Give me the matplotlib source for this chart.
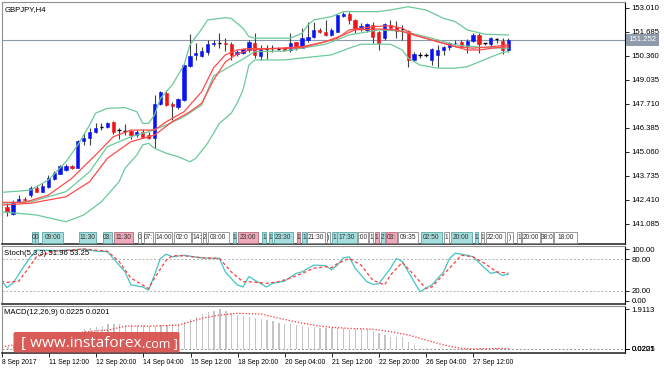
import numpy as np
import matplotlib.pyplot as plt
import matplotlib.transforms as mtransforms
from matplotlib.patches import FancyBboxPatch

plt.rcParams['font.family'] = ['Liberation Sans', 'DejaVu Sans']

# GBPJPY H4 candles, one entry per bar, left to right
opens = [142.04, 141.63, 142.31, 142.45, 142.68, 143.09, 142.87, 143.14, 143.57, 143.86,
         144.06, 144.29, 144.19, 145.67, 145.81, 146.15, 146.40, 146.42, 146.70, 146.27,
         146.23, 146.21, 145.99, 146.18, 145.99, 145.81, 147.69, 148.30, 147.73, 147.53,
         147.93, 149.82, 150.40, 150.38, 150.56, 151.00, 151.06, 151.08, 151.00, 150.45,
         150.51, 150.69, 151.06, 150.38, 150.79, 150.77, 150.79, 150.79, 150.69, 151.12,
         150.82, 151.24, 151.39, 151.80, 151.67, 151.52, 151.70, 152.57, 152.66, 152.35,
         151.85, 151.80, 152.07, 151.70, 151.34, 152.07, 151.98, 151.85, 151.74, 150.14,
         150.41, 150.38, 150.14, 150.41, 150.70, 150.83, 151.06, 151.15, 150.93, 151.20,
         151.52, 151.04, 151.02, 151.28, 151.20, 150.69]
highs = [142.24, 142.41, 142.68, 142.58, 143.20, 143.24, 143.33, 143.79, 144.01, 144.34,
         144.38, 144.36, 145.71, 146.09, 146.37, 146.64, 146.64, 146.70, 146.77, 146.37,
         146.60, 146.27, 146.27, 146.33, 146.15, 148.21, 148.43, 148.47, 147.80, 148.02,
         149.90, 151.56, 151.06, 150.87, 151.24, 151.24, 151.63, 151.34, 151.15, 150.69,
         150.79, 151.24, 151.61, 150.97, 150.97, 150.97, 150.88, 150.84, 151.61, 151.15,
         151.89, 152.25, 152.25, 151.89, 152.35, 151.89, 152.66, 152.81, 152.81, 152.40,
         152.16, 152.16, 152.25, 151.74, 152.16, 152.35, 152.29, 152.07, 151.80, 150.60,
         150.60, 150.51, 150.79, 150.97, 150.92, 151.15, 151.24, 151.24, 151.28, 151.61,
         151.65, 151.10, 151.39, 151.34, 151.34, 151.34]
lows = [141.52, 141.58, 142.28, 142.36, 142.59, 142.83, 142.83, 143.09, 143.51, 143.83,
        144.01, 144.11, 144.16, 145.44, 145.44, 146.09, 146.27, 146.40, 146.07, 145.77,
        145.99, 145.77, 145.88, 145.82, 145.77, 145.26, 147.65, 147.60, 146.83, 147.46,
        147.89, 149.77, 150.14, 150.32, 150.41, 150.91, 150.79, 150.62, 150.14, 150.36,
        150.45, 150.60, 150.23, 150.14, 150.19, 150.60, 150.69, 150.62, 150.60, 150.69,
        150.79, 151.15, 151.34, 151.61, 151.48, 151.48, 151.67, 152.53, 152.11, 151.61,
        151.74, 151.70, 151.06, 150.69, 151.24, 151.89, 151.34, 151.24, 149.77, 150.08,
        150.23, 150.32, 149.86, 149.77, 150.41, 150.69, 150.97, 150.80, 150.54, 151.15,
        150.54, 150.97, 150.78, 151.06, 150.47, 150.60]
closes = [141.73, 142.22, 142.45, 142.40, 143.05, 142.87, 143.20, 143.61, 143.88, 144.30,
          144.30, 144.16, 145.67, 145.85, 146.18, 146.40, 146.42, 146.64, 146.18, 146.25,
          146.21, 145.99, 146.15, 145.89, 145.81, 147.69, 148.36, 147.65, 147.60, 147.97,
          149.86, 150.36, 150.55, 150.64, 151.00, 151.06, 151.08, 151.04, 150.41, 150.60,
          150.73, 151.12, 150.41, 150.82, 150.77, 150.79, 150.77, 150.69, 151.09, 150.79,
          151.34, 151.43, 151.80, 151.70, 151.52, 151.80, 152.62, 152.66, 152.35, 151.85,
          152.03, 152.11, 151.43, 151.06, 152.11, 151.92, 151.74, 151.83, 150.14, 150.45,
          150.43, 150.40, 150.73, 150.69, 150.87, 151.06, 151.10, 150.91, 151.20, 151.52,
          151.02, 151.06, 151.34, 151.30, 150.69, 151.25]

# Bollinger bands and moving averages, read at sample bars
bb_up_x = [-1, 2, 4, 7, 10, 12, 14, 15, 17, 20, 22, 23, 24, 25, 26, 28, 30, 31, 33, 34,
           37, 38, 40, 41, 42, 48, 50, 51, 52, 55, 57, 63, 65, 68, 71, 74, 76, 78, 81, 85]
bb_up = [142.83, 142.90, 142.96, 143.51, 144.52, 145.45, 146.55, 147.20, 147.47, 147.51,
         147.28, 146.64, 146.64, 147.10, 148.02, 148.76, 149.86, 150.97, 151.85, 152.35,
         152.47, 152.44, 151.89, 151.43, 151.34, 151.34, 151.61, 152.07, 152.35, 152.53,
         152.81, 152.81, 152.90, 153.08, 152.90, 152.44, 152.25, 151.80, 151.56, 151.52]
bb_lo_x = [-1, 2, 5, 7, 10, 13, 16, 19, 20, 22, 23, 24, 25, 27, 29, 31, 32, 34, 36, 38,
           39, 40, 41, 42, 47, 50, 55, 58, 60, 65, 67, 68, 70, 73, 76, 78, 80, 82, 84, 85]
bb_lo = [141.76, 141.67, 141.58, 141.43, 141.21, 141.58, 142.31, 143.42, 144.16, 144.89,
         145.45, 145.54, 145.26, 144.99, 144.80, 144.52, 144.71, 145.54, 146.64, 147.20,
         147.75, 148.48, 149.86, 150.14, 150.14, 150.25, 150.42, 150.79, 151.01, 151.01,
         150.69, 150.25, 149.86, 149.69, 149.69, 149.77, 150.03, 150.30, 150.55, 150.61]
bb_mid_x = [-1, 4, 10, 14, 17, 21, 24, 27, 30, 33, 35, 38, 40, 42, 47, 54, 58, 63, 67, 72, 76, 81, 85]
bb_mid = [142.23, 142.31, 142.87, 143.97, 145.35, 145.90, 146.18, 146.55, 147.01, 147.65, 149.25,
          149.82, 150.19, 150.60, 150.63, 151.01, 151.52, 151.80, 151.74, 151.34, 150.97, 150.82, 150.79]
ma_fast_x = [-1, 3, 7, 11, 15, 18, 21, 25, 27, 30, 33, 35, 37, 39, 41, 47, 50, 53, 56, 58,
             62, 65, 67, 69, 73, 76, 79, 82, 85]
ma_fast = [142.28, 142.28, 142.68, 143.61, 144.89, 145.90, 146.27, 146.27, 146.73, 147.28,
           148.39, 149.70, 150.42, 150.69, 150.77, 150.77, 150.83, 151.06, 151.34, 151.80,
           151.98, 152.03, 151.89, 151.52, 151.15, 150.87, 150.79, 150.87, 150.97]
ma_slow_x = [-1, 4, 10, 14, 17, 21, 25, 28, 31, 33, 35, 37, 39, 41, 50, 54, 57, 59, 63, 66,
             68, 72, 75, 78, 80, 83, 85]
ma_slow = [142.13, 142.23, 142.59, 143.42, 144.71, 145.63, 145.99, 146.73, 147.28, 147.75,
           149.03, 150.03, 150.47, 150.69, 150.87, 151.15, 151.52, 151.80, 151.85, 151.80,
           151.61, 151.24, 150.97, 150.69, 150.69, 150.82, 150.87]

# Stochastic (5,3,3)
st_k_x = [-1, 0, 1, 3, 4, 5, 8, 11, 13, 15, 17, 18, 20, 21, 23, 24, 25, 26, 27, 28,
          30, 33, 36, 37, 39, 40, 41, 42, 44, 45, 47, 49, 50, 52, 54, 55, 56, 57, 58, 59,
          61, 62, 63, 65, 66, 67, 69, 70, 72, 74, 75, 76, 78, 79, 81, 82, 83, 84, 85]
st_k = [40, 26, 34, 69, 85, 98, 97, 98, 100, 96, 95, 82, 56, 31, 27, 21, 50, 82, 90, 85,
        88, 83, 82, 56, 31, 27, 47, 40, 27, 34, 38, 53, 56, 69, 68, 60, 69, 83, 85, 63,
        37, 32, 33, 63, 82, 76, 37, 18, 31, 56, 82, 92, 88, 85, 63, 53, 56, 49, 51.96]
st_d_x = [-1, 0, 2, 4, 5, 8, 11, 13, 17, 19, 21, 24, 25, 27, 28, 30, 33, 36, 38, 40,
          41, 44, 46, 48, 50, 52, 54, 55, 56, 58, 60, 62, 64, 65, 67, 69, 71, 72, 75, 77,
          79, 81, 83, 85]
st_d = [38, 36, 38, 69, 85, 96, 98, 100, 96, 76, 44, 24, 44, 79, 87, 87, 83, 82, 56, 37,
        37, 34, 37, 44, 53, 63, 66, 64, 72, 82, 69, 40, 31, 50, 74, 50, 24, 27, 63, 88,
        85, 72, 56, 53.25]

# MACD (12,26,9): histogram per bar, signal at sample bars
macd_hist = [0.10, 0.14, 0.18, 0.22, 0.28, 0.33, 0.38, 0.45, 0.52, 0.60, 0.67, 0.72, 0.80,
             0.95, 1.00, 1.07, 1.12, 1.20, 1.20, 1.18, 1.17,
             1.17, 1.15, 1.13, 1.10, 1.12, 1.16, 1.17, 1.18, 1.20,
             1.31, 1.42, 1.55, 1.68, 1.76, 1.83, 1.91, 1.85, 1.75,
             1.63, 1.58, 1.52, 1.47, 1.43, 1.39, 1.33, 1.26, 1.22,
             1.18, 1.15, 1.10, 1.07, 1.04, 1.02, 1.00, 0.99, 0.99,
             0.99, 0.98, 0.98, 0.98, 0.97, 0.88, 0.78, 0.67, 0.59,
             0.57, 0.56, 0.35, 0.19, 0.05, 0.03, 0.02, 0.02, 0.01, 0.02,
             0.02, 0.02, 0.03, 0.03, 0.03, 0.02, 0.02, 0.03, 0.02, 0.0225]
macd_sig_x = [-1, 6, 13, 17, 20, 24, 29, 33, 36, 39, 43, 46, 50, 53, 55, 58, 62, 65, 68, 71,
              74, 77, 79, 83, 85]
macd_sig = [0.11, 0.40, 0.83, 0.91, 1.10, 1.10, 1.15, 1.48, 1.63, 1.72, 1.68, 1.48, 1.24,
            1.10, 1.04, 0.99, 0.95, 0.83, 0.67, 0.43, 0.19, 0.03, 0.0, 0.03, 0.0201]

price_ticks = [153.010, 151.685, 150.360, 149.035, 147.710, 146.385, 145.060, 143.735, 142.410, 141.085]
last_price = 151.252
date_ticks = [-1, 7, 15, 23, 31, 39, 47, 55, 63, 71, 79]
date_labels = ['8 Sep 2017', '11 Sep 12:00', '12 Sep 20:00', '14 Sep 04:00', '15 Sep 12:00',
               '18 Sep 20:00', '20 Sep 04:00', '21 Sep 12:00', '22 Sep 20:00', '26 Sep 04:00',
               '27 Sep 12:00']

# calendar event tags along the bottom of the price window (c=cyan, p=pink, w=white)
event_text = ['0', '0', '09:00', '11:30', '03:', '11:30', '0', '07:', '14:00', '02:0', '14:',
              '2', '03:00', '1', '23:00', '1', '1', '23:30', '1', '1', '21:30', ')', '1',
              '17:30', ':00', '1', '1', '2', '03:', '09:35', '02:50', '1', '20:00', '1', '1',
              '22:00', ')', '1', '20:00', '38:0', '18:00']
event_kind = ['c', 'c', 'c', 'c', 'c', 'p', 'w', 'w', 'w', 'w', 'w',
              'w', 'w', 'c', 'p', 'c', 'c', 'c', 'p', 'c', 'w', 'w', 'c',
              'c', 'w', 'w', 'p', 'c', 'p', 'w', 'c', 'w', 'c', 'c', 'w',
              'w', 'w', 'w', 'w', 'w', 'w']
event_x = [(31.7, 35), (35, 38.3), (41.7, 63.3), (79, 96.7), (102.3, 112.7), (113.3, 133.3),
           (137.7, 141), (143.3, 153.3), (155, 172.7), (173.3, 191), (191.7, 201.7),
           (202.7, 206.7), (207.3, 229.3), (232.3, 236.7), (237.3, 258.3), (261.7, 266.7),
           (268.3, 272.7), (273.3, 293.3), (296.7, 300.7), (301.7, 306), (306.7, 325),
           (326.7, 330), (332, 337), (337, 357), (358, 368.7), (368.7, 373.7), (374.3, 379.3),
           (380.3, 385.3), (386, 397), (397.7, 418.7), (420.3, 442), (443.7, 449.3),
           (450.3, 472), (474.7, 478.7), (480.3, 484.7), (485.3, 505.3), (507, 513),
           (517, 521.3), (521.3, 540.3), (540.3, 553.7), (553.7, 577)]

W, H = 664, 369
fig = plt.figure(figsize=(W / 100, H / 100), dpi=100)
fs = 5.6


def px_box(x0, y0, x1, y1):
    return [x0 / W, 1 - y1 / H, (x1 - x0) / W, (y1 - y0) / H]


ax = fig.add_axes(px_box(2, 2, 625, 244))
ax_st = fig.add_axes(px_box(2, 246, 625, 304))
ax_md = fig.add_axes(px_box(2, 306, 625, 353))

for a in (ax, ax_st, ax_md):
    a.set_xlim(-0.85, 104.75)
    a.yaxis.tick_right()
    a.tick_params(axis='y', direction='out', length=3, width=0.6, pad=1.5, labelsize=fs, colors='black')
    a.tick_params(axis='x', bottom=False, labelbottom=False)
    for side in ('left', 'top'):
        a.spines[side].set_color('#909090')
        a.spines[side].set_linewidth(0.8)
    a.spines['right'].set_color('black')
    a.spines['right'].set_linewidth(0.8)
    a.spines['bottom'].set_color('#303030')
    a.spines['bottom'].set_linewidth(1.2)

# ---- price window ----
x = np.arange(len(opens))
o = np.array(opens)
c = np.array(closes)
ax.vlines(x, lows, highs, color='#404040', lw=0.8, zorder=3)
body = np.abs(c - o) >= 0.03
cols = np.where(c > o, '#0a14f0', '#f01414')
ax.bar(x[body], np.abs(c - o)[body], bottom=np.minimum(o, c)[body], width=0.56,
       color=cols[body], edgecolor=cols[body], linewidth=0.4, zorder=4)
ax.hlines(c[~body], x[~body] - 0.3, x[~body] + 0.3, color='black', lw=1.0, zorder=4)

green = '#6cc99a'
red = '#ff4a4a'
ax.plot(bb_up_x, bb_up, color=green, lw=0.9, zorder=5)
ax.plot(bb_lo_x, bb_lo, color=green, lw=0.9, zorder=5)
ax.plot(bb_mid_x, bb_mid, color=green, lw=0.9, zorder=5)
ax.plot(ma_fast_x, ma_fast, color=red, lw=0.9, zorder=5)
ax.plot(ma_slow_x, ma_slow, color=red, lw=0.9, zorder=5)

ax.axhline(last_price, color='#8d9aab', lw=0.8, zorder=2)
ax.set_ylim(139.98, 153.34)
ax.set_yticks(price_ticks)
ax.set_yticklabels(['%.3f' % v for v in price_ticks])
blend = mtransforms.blended_transform_factory(ax.transAxes, ax.transData)
ax.text(1.006, last_price, '%.3f' % last_price, transform=blend, ha='left', va='center',
        fontsize=fs, color='white', zorder=10, clip_on=False,
        bbox=dict(boxstyle='square,pad=0.3', fc='#8d9bab', ec='none'))
ax.text(0.004, 0.985, 'GBPJPY,H4', transform=ax.transAxes, ha='left', va='top', fontsize=fs)

# ---- stochastic window ----
ax_st.axhline(80, color='#b0b0b0', lw=0.7, ls=(0, (2, 2)))
ax_st.axhline(20, color='#b0b0b0', lw=0.7, ls=(0, (2, 2)))
ax_st.plot(st_k_x, st_k, color='#45c4c4', lw=0.9)
ax_st.plot(st_d_x, st_d, color='#ff3a3a', lw=0.9, ls=(0, (2.5, 2)))
ax_st.set_ylim(-5.8, 105.8)
ax_st.set_yticks([100, 80, 20, 0])
ax_st.set_yticklabels(['100.00', '80.00', '20.00', '0.00'])
ax_st.text(0.004, 0.93, 'Stoch(5,3,3) 51.96 53.25', transform=ax_st.transAxes,
           ha='left', va='top', fontsize=fs)

# ---- MACD window ----
ax_md.axhline(0, color='#909090', lw=0.7, ls=(0, (2, 2)))
ax_md.bar(x, macd_hist, width=0.22, color='#c4c4c4', linewidth=0)
ax_md.plot(macd_sig_x, macd_sig, color='#ff3030', lw=0.9, ls=(0, (1, 1.5)))
ax_md.set_ylim(-0.192, 2.067)
ax_md.set_yticks([1.9113, 0.0225, 0.0201])
ax_md.set_yticklabels(['1.9113', '0.0225', '0.0201'])
ax_md.text(0.004, 0.93, 'MACD(12,26,9) 0.0225 0.0201', transform=ax_md.transAxes,
           ha='left', va='top', fontsize=fs)
ax_md.set_xticks(date_ticks)
ax_md.set_xticklabels(date_labels, ha='left')
ax_md.tick_params(axis='x', bottom=True, labelbottom=True, direction='out', length=3,
                  width=0.6, pad=1, labelsize=4.9)

# ---- overlay in pixel units: event tags and watermark ----
ov = fig.add_axes([0, 0, 1, 1], zorder=20)
ov.set_xlim(0, W)
ov.set_ylim(H, 0)
ov.axis('off')
fills = {'c': ('#a6dede', '#5aa8a8'), 'p': ('#eeaabb', '#b86a7c'), 'w': ('#ffffff', '#8a8a8a')}
for (x0, x1), txt, kind in zip(event_x, event_text, event_kind):
    fc, ec = fills[kind]
    ov.add_patch(FancyBboxPatch((x0 + 0.4, 231.5), x1 - x0 - 0.8, 11, boxstyle='square,pad=0',
                                fc=fc, ec=ec, lw=0.6))
    ov.text((x0 + x1) / 2, 237.3, txt, ha='center', va='center', fontsize=4.8, color='#303030')

ov.add_patch(FancyBboxPatch((14, 332.5), 165, 19.5, boxstyle='round,pad=0.5,rounding_size=2',
                            fc='#d6504c', ec='none', alpha=0.93))
t1 = ov.text(21, 343.5, '[ www.instaforex', ha='left', va='center', fontsize=11,
             color='white', family=['Open Sans', 'DejaVu Sans'])
ov.annotate('.com ]', xy=(1, 0.5), xycoords=t1, ha='left', va='center', fontsize=9,
            color='white', family=['Open Sans', 'DejaVu Sans'])

fig.savefig('out.png', dpi=100)
